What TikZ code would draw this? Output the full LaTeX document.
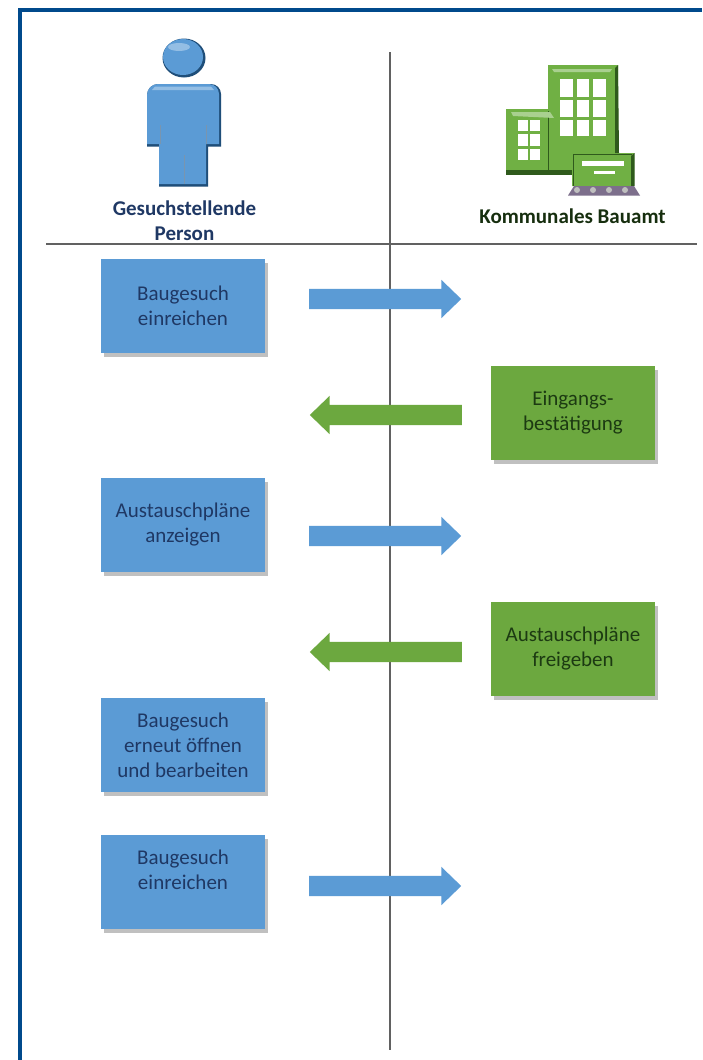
\documentclass[tikz,border=0pt]{standalone}
\usepackage{fontspec}
\setmainfont{Carlito}
\usetikzlibrary{shapes.arrows,shadows}
\definecolor{bluebox}{HTML}{5B9BD5}
\definecolor{greenbox}{HTML}{6CA83F}
\definecolor{framec}{HTML}{004A8C}
\definecolor{navytxt}{HTML}{1F3864}
\definecolor{greentxt}{HTML}{1C3A12}
\definecolor{bldg}{HTML}{70B044}
\definecolor{bldgd}{HTML}{2F5A1C}
\definecolor{persd}{HTML}{1F4E79}
\definecolor{feet}{HTML}{7D6F8C}
\tikzset{
  x=1pt,y=-1pt,
  boxbase/.style={minimum width=164pt,minimum height=94pt,inner sep=0pt,align=center,font=\fontsize{21}{25}\selectfont,
    drop shadow={shadow xshift=2.5pt,shadow yshift=-3.5pt,opacity=.35,fill=black!70}},
  bluestep/.style={boxbase,fill=bluebox,text=navytxt},
  greenstep/.style={boxbase,fill=greenbox,text=greentxt},
  arrowbase/.style={single arrow,anchor=tail,minimum height=152pt,inner xsep=0pt,inner ysep=10pt,single arrow head extend=9pt,single arrow tip angle=88},
  toright/.style={arrowbase,fill=bluebox},
  toleft/.style={arrowbase,fill=greenbox,shape border rotate=180},
  axis/.style={draw=black!62,line width=2pt},
  head/.style={font=\bfseries\fontsize{21}{25}\selectfont,align=center},
  win/.style={fill=white}
}
\begin{document}
\begin{tikzpicture}
\useasboundingbox (0,0) rectangle (702,1060);
\fill[white] (0,0) rectangle (702,1060);
% frame
\draw[framec,line width=4pt] (20,1060) -- (20,10) -- (702,10);
% axes
\coordinate (vt) at (390,52);
\coordinate (vb) at (390,1050);
\coordinate (hl) at (46,244);
\coordinate (hr) at (697,244);
\draw[axis] (vt) -- (vb);
\draw[axis] (hl) -- (hr);
% person
\fill[persd] (184,58) ellipse (21.5 and 19.5);
\fill[bluebox] (183,57) ellipse (20 and 18);
\fill[bluebox!65!white] (179,47) ellipse (11 and 4);
\fill[persd] (147,146.5) -- (147,95) arc[start angle=180,end angle=270,radius=11] -- (211,84) arc[start angle=270,end angle=360,radius=10] -- (221,146.5) -- (208,146.5) -- (208,186.5) -- (159,186.5) -- (159,146.5) -- cycle;
\fill[bluebox] (147,144) -- (147,95) arc[start angle=180,end angle=270,radius=11] -- (209,84) arc[start angle=270,end angle=360,radius=10] -- (219,144) -- (206,144) -- (206,184) -- (159,184) -- (159,144) -- cycle;
\fill[bluebox!65!white] (152,90) -- (214,90) -- (211,86.5) -- (155,86.5) -- cycle;
\draw[persd!60,line width=.5pt] (160,125) -- (160,144) (206,125) -- (206,144) (184,155) -- (184,184);
% building
\fill[bldg] (506,173) -- (506,109) -- (548,109) -- (548,65) -- (618,65) -- (618,153) -- (634,153) -- (634,186) -- (572,186) -- (572,173) -- cycle;
\fill[bldgd] (615,68) -- (618,65) -- (619,153) -- (615,153) -- cycle;
\fill[bldgd] (506,170) -- (572,170) -- (572,174.5) -- (506,174.5) -- cycle;
\fill[bldgd] (631,156) -- (634.5,153) -- (634.5,186) -- (631,186) -- cycle;
\draw[bldgd,line width=.6pt] (548,111) -- (548,171);
\draw[bldgd,line width=1pt] (573,154) -- (573,186) (573,154) -- (632,154);
\fill[bldg!60!white] (552,69) -- (612,69) -- (610,72) -- (554,72) -- cycle;
\fill[bldg!60!white] (511,112) -- (550,112) -- (554,118) -- (513,116) -- cycle;
\foreach \xa/\xb in {560/573,577/589,593/606}\foreach \ya/\yb in {79/97,100/117,120/136}
  \fill[win] (\xa,\ya) rectangle (\xb,\yb);
\foreach \xa/\xb in {518/528,530/540}\foreach \ya/\yb in {120/131,134/146,149/160}
  \fill[win] (\xa,\ya) rectangle (\xb,\yb);
\fill[win] (582,161) rectangle (624,166);
\fill[win] (594,171) rectangle (615,174);
\fill[feet] (568,195.5) -- (574,186) -- (634,186) -- (640,195.5) -- cycle;
\foreach \xx in {577,593,609,625} \fill[black!25] (\xx,190) circle (3);
% headings
\node[head,text=navytxt] (hperson) at (184.5,220.5) {Gesuchstellende\\Person};
\node[head,text=greentxt!80!black] (hamt) at (572.5,216) {Kommunales Bauamt};
% boxes
\node[bluestep] (b1) at (183,306) {Baugesuch\\einreichen};
\node[greenstep] (g1) at (573,413) {Eingangs-\\bestätigung};
\node[bluestep] (b2) at (183,525) {Austauschpläne\\anzeigen};
\node[greenstep] (g2) at (573,649) {Austauschpläne\\freigeben};
\node[bluestep] (b3) at (183,745) {Baugesuch\\erneut öffnen\\und bearbeiten};
\node[bluestep] (b4) at (183,882) {Baugesuch\\einreichen\\~};
% arrows
\node[toright] (a1) at (309,299) {};
\node[toleft] (a2) at (462,415) {};
\node[toright] (a3) at (309,536) {};
\node[toleft] (a4) at (462,652) {};
\node[toright] (a5) at (309,886) {};
\end{tikzpicture}
\end{document}
